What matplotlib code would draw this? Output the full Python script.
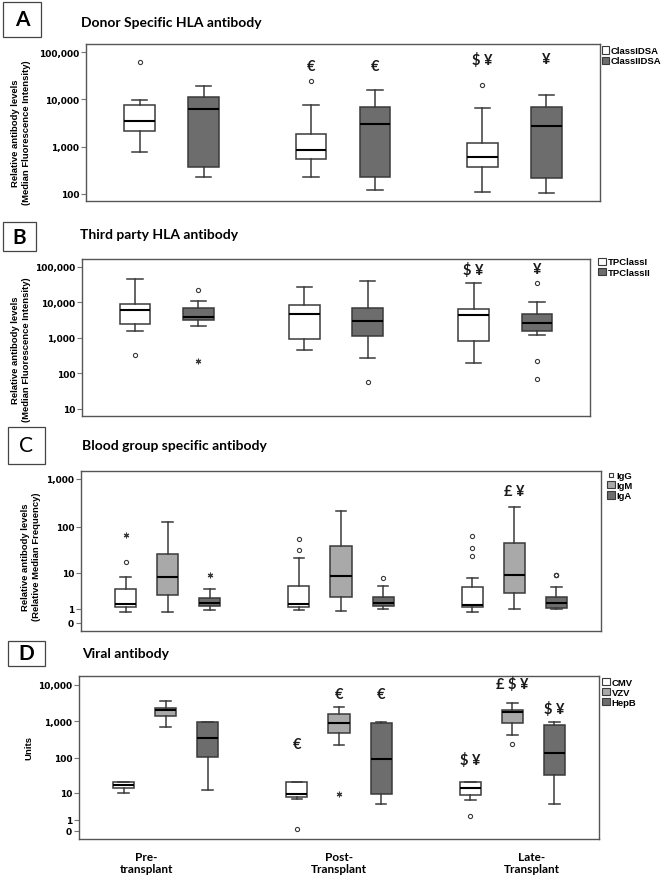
import numpy as np
import matplotlib
matplotlib.use("Agg")
import matplotlib.pyplot as plt
from matplotlib.patches import Patch, Rectangle
from matplotlib.lines import Line2D

# ============================================
# DATA
# box stats per group: (whisker low, Q1, median, Q3, whisker high)
# ============================================
GROUPS = ["Pre-\ntransplant", "Post-\nTransplant", "Late-\nTransplant"]

# A - Donor specific HLA antibody (MFI)
A_LABELS = ["ClassIDSA", "ClassIIDSA"]
A_CLASSI = [(790, 2100, 3500, 7700, 9500), (225, 560, 860, 1850, 7500), (108, 370, 600, 1180, 6500)]
A_CLASSI_OUT = [[61000], [24000], [20000]]
A_CLASSII = [(225, 370, 6200, 11000, 19000), (120, 225, 3000, 6900, 16000), (104, 222, 2700, 7000, 12600)]
A_CLASSII_OUT = [[], [], []]

# B - Third party HLA antibody (MFI)
B_LABELS = ["TPClassI", "TPClassII"]
B_TPI = [(1550, 2400, 6300, 9200, 47000), (450, 950, 4700, 8300, 28000), (200, 800, 4300, 6700, 35000)]
B_TPI_OUT = [[320], [], []]
B_TPII = [(2150, 3250, 4000, 6900, 10700), (270, 1170, 2950, 6900, 40000), (1240, 1600, 2700, 4800, 10300)]
B_TPII_OUT = [[23000], [57], [35000, 220, 68]]
B_TPII_EXT = [[220], [], []]

# C - Blood group specific antibody (relative median frequency)
C_LABELS = ["IgG", "IgM", "IgA"]
C_IGG = [(0.73, 1.2, 1.5, 4.0, 7.9), (0.87, 1.2, 1.47, 4.8, 21.4), (0.73, 1.2, 1.39, 4.6, 7.8)]
C_IGG_OUT = [[17.7], [32.4, 54], [24, 35.3, 64.8]]
C_IGG_EXT = [[67], [], []]
C_IGM = [(0.73, 2.8, 8.1, 26, 128), (0.76, 2.4, 8.7, 39.5, 216), (0.97, 3.3, 9, 45, 254)]
C_IGA = [(0.82, 1.27, 1.55, 2.25, 4.0), (0.94, 1.24, 1.55, 2.4, 4.8), (0.97, 1.1, 1.55, 2.56, 4.5)]
C_IGA_OUT = [[], [7.8], [8.8, 8.85, 8.9]]
C_IGA_EXT = [[9.2], [], []]

# D - Viral antibody (units)
D_LABELS = ["CMV", "VZV", "HepB"]
D_CMV = [(9.8, 13.9, 16.6, 20.3, 20.3), (6.4, 7.4, 9.1, 20.7, 20.7), (6.1, 8.5, 13.9, 20.7, 20.7)]
D_CMV_OUT = [[], [0.1], [1.57]]
D_VZV = [(710, 1370, 2000, 2320, 3620), (217, 475, 880, 1550, 2530), (415, 915, 1770, 2090, 3260)]
D_VZV_OUT = [[], [], [241]]
D_VZV_EXT = [[], [9.4], []]
D_HEPB = [(12.1, 103, 353, 975, 975), (4.6, 9, 93, 920, 975), (4.6, 33.6, 136, 790, 975)]

# significance symbols: (series index, group index, text)
A_SIGNIF = [(0, 1, "€"), (1, 1, "€"), (0, 2, "$ ¥"), (1, 2, "¥")]
B_SIGNIF = [(0, 2, "$ ¥"), (1, 2, "¥")]
C_SIGNIF = [(1, 2, "£ ¥")]
D_SIGNIF = [(0, 1, "€"), (1, 1, "€"), (2, 1, "€"), (0, 2, "$ ¥"), (1, 2, "£ $ ¥"), (2, 2, "$ ¥")]

# ============================================
# STYLE
# ============================================
W, H = 668, 878
EDGE = "#3a3a3a"
WHITE = "#ffffff"
MID = "#a9a9a9"
DARK = "#6d6d6d"
TITLE_FONT = "Lato"
TEXT_FONT = "Liberation Sans"
TICK_FONT = "DejaVu Sans"


def px_rect(x0, y0, x1, y1):
    """pixel box (top-left origin) -> figure fraction rect"""
    return [x0 / W, 1 - y1 / H, (x1 - x0) / W, (y1 - y0) / H]


def log1p_fwd(y):
    return np.log10(np.maximum(np.asarray(y, dtype=float) + 1.0, 1e-9))


def log1p_inv(t):
    return 10.0 ** np.asarray(t, dtype=float) - 1.0


def draw_series(ax, stats, outliers, extremes, color, offset, width):
    bstats = []
    for s, o in zip(stats, outliers):
        bstats.append(dict(whislo=s[0], q1=s[1], med=s[2], q3=s[3], whishi=s[4], fliers=o))
    pos = [g + 1 + offset for g in range(len(stats))]
    ax.bxp(bstats, positions=pos, widths=width, patch_artist=True, manage_ticks=False,
           boxprops=dict(facecolor=color, edgecolor=EDGE, linewidth=1.1),
           whiskerprops=dict(color=EDGE, linewidth=1.1),
           capprops=dict(color=EDGE, linewidth=1.1),
           medianprops=dict(color="black", linewidth=1.5),
           flierprops=dict(marker="o", markersize=3, markerfacecolor="none",
                           markeredgecolor=EDGE, markeredgewidth=0.8))
    for p, ex in zip(pos, extremes):
        if ex:
            ax.plot([p] * len(ex), ex, ls="none", marker=(6, 2, 0), ms=4,
                    mew=0.8, color=EDGE)
    return pos


def style_axes(ax, ticks, ticklabels, ylim):
    ax.set_xlim(0.5, 3.5)
    ax.set_ylim(*ylim)
    ax.set_yticks(ticks)
    ax.set_yticklabels(ticklabels, fontfamily=TICK_FONT, fontweight="bold", fontsize=6.5)
    ax.yaxis.set_minor_locator(matplotlib.ticker.NullLocator())
    ax.tick_params(axis="y", length=3.5, width=0.8, color="#777777", pad=1.5)
    ax.set_xticks([])
    for sp in ax.spines.values():
        sp.set_color("#555555")
        sp.set_linewidth(1.0)


def add_signif(ax, signif, offsets, heights):
    for (si, gi, txt), h in zip(signif, heights):
        ax.text(gi + 1 + offsets[si], h, txt, transform=ax.get_xaxis_transform(),
                ha="center", va="center", fontfamily=TITLE_FONT, fontweight="bold",
                fontsize=10.5, color="#1a1a1a")


def add_panel_header(fig, letter, box, bold=True):
    x0, y0, x1, y1 = box
    fig.add_artist(Rectangle((x0 / W, 1 - y1 / H), (x1 - x0) / W, (y1 - y0) / H,
                             transform=fig.transFigure, fill=False,
                             edgecolor="#444444", linewidth=0.9))
    fig.text((x0 + x1) / 2 / W, 1 - (y0 + y1) / 2 / H, letter, ha="center", va="center",
             fontfamily=TITLE_FONT, fontweight="bold" if bold else "normal", fontsize=15)


def add_title(fig, text, xy):
    fig.text(xy[0] / W, 1 - xy[1] / H, text, ha="left", va="center",
             fontfamily=TITLE_FONT, fontweight="bold", fontsize=10)


def add_ylabel(fig, text, xy):
    fig.text(xy[0] / W, 1 - xy[1] / H, text, ha="center", va="center", rotation=90,
             multialignment="center", fontfamily=TEXT_FONT, fontweight="bold",
             fontsize=6.8, linespacing=1.3)


def add_legend(ax, handles, labels, anchor):
    ax.legend(handles, labels, loc="upper left", bbox_to_anchor=anchor, frameon=False,
              prop=dict(family=TEXT_FONT, weight="bold", size=6.8),
              handlelength=0.8, handleheight=0.8, handletextpad=0.2,
              labelspacing=0.12, borderpad=0, borderaxespad=0)


def patch(color):
    return Patch(facecolor=color, edgecolor=EDGE, linewidth=0.8)


# ============================================
# FIGURE
# ============================================
fig = plt.figure(figsize=(W / 100, H / 100), dpi=100)
fig.patch.set_facecolor("white")

two_off = [-0.187, 0.187]
two_w = 0.18
three_off = [-0.243, 0.0, 0.243]
three_w = 0.122

# ---- A ----
axA = fig.add_axes(px_rect(86, 45, 600, 202))
axA.set_yscale("log")
draw_series(axA, A_CLASSI, A_CLASSI_OUT, [[]] * 3, WHITE, two_off[0], two_w)
draw_series(axA, A_CLASSII, A_CLASSII_OUT, [[]] * 3, DARK, two_off[1], two_w)
style_axes(axA, [100, 1000, 10000, 100000], ["100", "1,000", "10,000", "100,000"], (71, 148000))
add_signif(axA, A_SIGNIF, two_off, [0.862, 0.862, 0.904, 0.904])
add_legend(axA, [patch(WHITE), patch(DARK)], A_LABELS, (1.003, 0.985))
add_panel_header(fig, "A", (3, 3, 41, 38))
add_title(fig, "Donor Specific HLA antibody", (81, 23))
add_ylabel(fig, "Relative antibody levels\n(Median Fluorescence Intensity)", (21, 133))

# ---- B ----
axB = fig.add_axes(px_rect(82, 260, 590, 417))
axB.set_yscale("log")
draw_series(axB, B_TPI, B_TPI_OUT, [[]] * 3, WHITE, two_off[0], two_w)
draw_series(axB, B_TPII, B_TPII_OUT, B_TPII_EXT, DARK, two_off[1], two_w)
style_axes(axB, [10, 100, 1000, 10000, 100000],
           ["10", "100", "1,000", "10,000", "100,000"], (6.3, 168000))
add_signif(axB, B_SIGNIF, two_off, [0.936, 0.936])
add_legend(axB, [patch(WHITE), patch(DARK)], B_LABELS, (1.016, 1.01))
add_panel_header(fig, "B", (3, 223, 36, 252))
add_title(fig, "Third party HLA antibody", (80, 235))
add_ylabel(fig, "Relative antibody levels\n(Median Fluorescence Intensity)", (21, 350))

# ---- C ----
axC = fig.add_axes(px_rect(81, 472, 601, 632))
axC.set_yscale("function", functions=(log1p_fwd, log1p_inv))
draw_series(axC, C_IGG, C_IGG_OUT, C_IGG_EXT, WHITE, three_off[0], three_w)
draw_series(axC, C_IGM, [[]] * 3, [[]] * 3, MID, three_off[1], three_w)
draw_series(axC, C_IGA, C_IGA_OUT, C_IGA_EXT, DARK, three_off[2], three_w)
style_axes(axC, [0, 1, 10, 100, 1000], ["0", "1", "10", "100", "1,000"], (-0.32, 1468))
add_signif(axC, C_SIGNIF, three_off, [0.875])
igg_handle = Line2D([], [], ls="none", marker="s", ms=3, markerfacecolor=WHITE,
                    markeredgecolor=EDGE, markeredgewidth=0.8)
add_legend(axC, [igg_handle, patch(MID), patch(DARK)], C_LABELS, (1.012, 1.0))
add_panel_header(fig, "C", (8, 428, 45, 465), bold=False)
add_title(fig, "Blood group specific antibody", (82, 446))
add_ylabel(fig, "Relative antibody levels\n(Relative Median Frequency)", (31, 557))

# ---- D ----
axD = fig.add_axes(px_rect(79, 677, 599, 840))
axD.set_yscale("function", functions=(log1p_fwd, log1p_inv))
draw_series(axD, D_CMV, D_CMV_OUT, [[]] * 3, WHITE, three_off[0], three_w)
draw_series(axD, D_VZV, D_VZV_OUT, D_VZV_EXT, MID, three_off[1], three_w)
draw_series(axD, D_HEPB, [[]] * 3, [[]] * 3, DARK, three_off[2], three_w)
style_axes(axD, [0, 1, 10, 100, 1000, 10000],
           ["0", "1", "10", "100", "1,000", "10,000"], (-0.40, 17380))
add_signif(axD, D_SIGNIF, three_off, [0.58, 0.89, 0.89, 0.49, 0.951, 0.80])
add_legend(axD, [patch(WHITE), patch(MID), patch(DARK)], D_LABELS, (1.006, 0.99))
axD.set_xticks([0.89, 2.0, 3.11])
axD.set_xticklabels(GROUPS, fontfamily=TITLE_FONT, fontweight="bold", fontsize=8.5,
                    linespacing=1.1)
axD.tick_params(axis="x", length=0, pad=9)
add_panel_header(fig, "D", (8, 642, 45, 667))
add_title(fig, "Viral antibody", (82, 654))
add_ylabel(fig, "Units", (29, 748))

fig.savefig("out.png", dpi=100)
